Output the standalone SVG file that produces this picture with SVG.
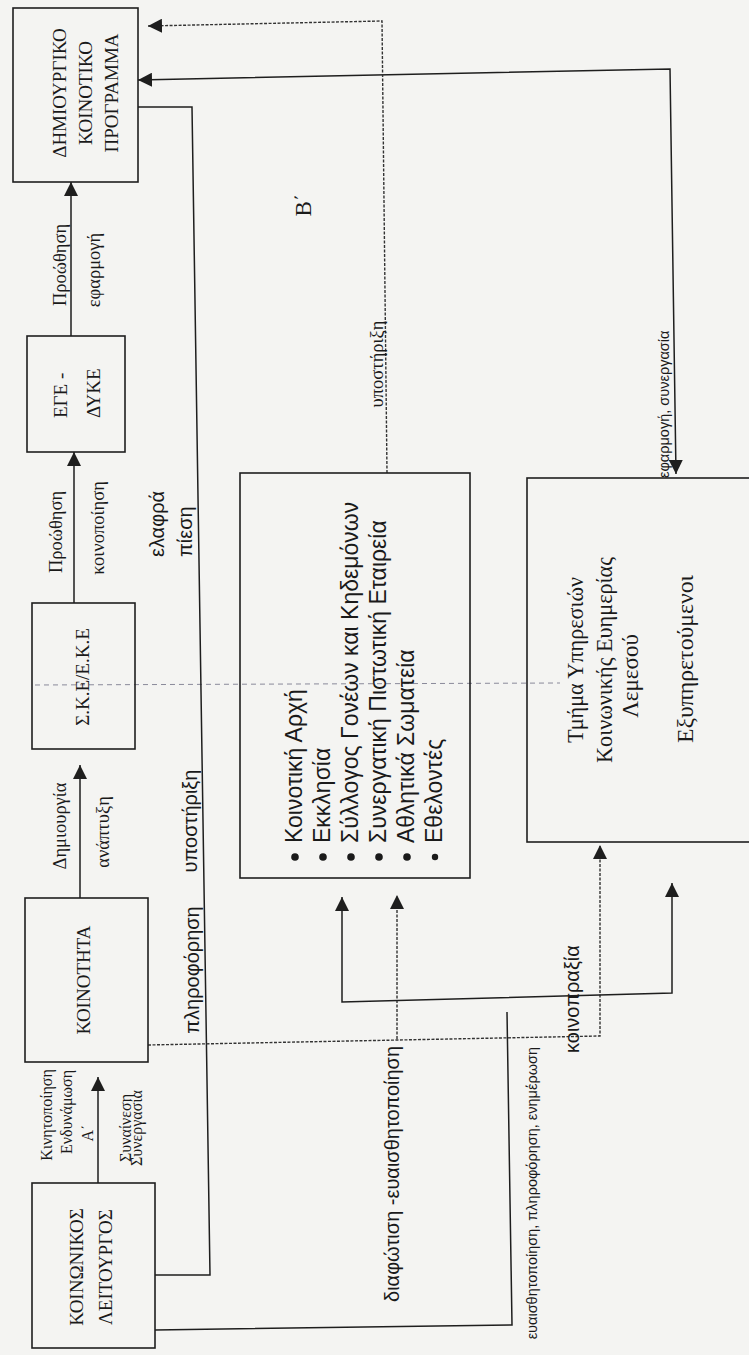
<svg xmlns="http://www.w3.org/2000/svg" width="749" height="1355" viewBox="0 0 749 1355">
<defs>
<style>
.box{fill:none;stroke:#1e1e1e;stroke-width:1.6}
.ln{fill:none;stroke:#1e1e1e;stroke-width:1.5}
.dl{fill:none;stroke:#333;stroke-width:1.4;stroke-dasharray:3 1.5}
.faint{fill:none;stroke:#8a8a9a;stroke-width:1;stroke-dasharray:5 4}
text{fill:#1a1a1a}
.cap{font-family:"Liberation Serif","DejaVu Serif",serif;font-size:19px}
.lbl{font-family:"Liberation Serif","DejaVu Serif",serif;font-size:18.5px}
.sm{font-family:"Liberation Serif","DejaVu Serif",serif;font-size:16px}
.big{font-family:"Liberation Serif","DejaVu Serif",serif;font-size:23px}
.sans{font-family:"Liberation Sans","DejaVu Sans",sans-serif;font-size:20px}
.list{font-family:"Liberation Sans","DejaVu Sans",sans-serif;font-size:23px}
.tiny{font-family:"Liberation Sans","DejaVu Sans",sans-serif;font-size:14.5px}
</style>
<marker id="ah" viewBox="0 0 14 14" refX="14" refY="7" markerWidth="14" markerHeight="14" markerUnits="userSpaceOnUse" orient="auto-start-reverse">
<path d="M0,0 L14,7 L0,14 z" fill="#1e1e1e"/>
</marker>
</defs>
<rect x="0" y="0" width="749" height="1355" fill="#f4f4f2"/>

<g id="connectors">
<line class="faint" x1="35" y1="685" x2="560" y2="683"/>
<line class="ln" x1="71" y1="336" x2="71" y2="182" marker-end="url(#ah)"/>
<line class="ln" x1="74" y1="603" x2="74" y2="452" marker-end="url(#ah)"/>
<line class="ln" x1="80" y1="898" x2="80" y2="765" marker-end="url(#ah)"/>
<line class="ln" x1="98" y1="1183" x2="98" y2="1077" marker-end="url(#ah)"/>
<polyline class="ln" points="138,107 192,107 210,1275 155,1275"/>
<polyline class="ln" points="138,80 670,69 676,474" marker-start="url(#ah)" marker-end="url(#ah)"/>
<polyline class="dl" points="387,473 382,21 148,26" marker-end="url(#ah)"/>
<polyline class="dl" points="148,1045 600,1036 600,845" marker-end="url(#ah)"/>
<line class="dl" x1="397" y1="1039" x2="397" y2="895" marker-end="url(#ah)"/>
<polyline class="ln" points="155,1330 512,1325 507,1012"/>
<polyline class="ln" points="342,897 342,1002 672,993 672,883" marker-start="url(#ah)" marker-end="url(#ah)"/>

<text class="lbl" text-anchor="middle" transform="translate(66,265) rotate(-90)">Προώθηση</text>
<text class="lbl" text-anchor="middle" transform="translate(100,270) rotate(-90)">εφαρμογή</text>
<text class="lbl" text-anchor="middle" transform="translate(62,532) rotate(-90)">Προώθηση</text>
<text class="lbl" text-anchor="middle" transform="translate(104,528) rotate(-90)">κοινοποίηση</text>
<text class="lbl" text-anchor="middle" transform="translate(66,826) rotate(-90)">Δημιουργία</text>
<text class="lbl" text-anchor="middle" transform="translate(109,832) rotate(-90)">ανάπτυξη</text>
<text class="sm" text-anchor="middle" transform="translate(52,1115) rotate(-90)">Κινητοποίηση</text>
<text class="sm" text-anchor="middle" transform="translate(72,1112) rotate(-90)">Ενδυνάμωση</text>
<text class="sm" text-anchor="middle" transform="translate(93,1133) rotate(-90)">Α΄</text>
<text class="sm" text-anchor="middle" transform="translate(131,1128) rotate(-90)">Συναίνεση</text>
<text class="sm" text-anchor="middle" transform="translate(142,1128) rotate(-90)">Συνεργασία</text>
<text class="sans" transform="translate(164,557) rotate(-90)">ελαφρά</text>
<text class="sans" transform="translate(192,557) rotate(-90)">πίεση</text>
<text class="sans" text-anchor="middle" transform="translate(197,821) rotate(-90)">υποστήριξη</text>
<text class="sans" text-anchor="middle" transform="translate(199,970) rotate(-90)">πληροφόρηση</text>
<text class="sans" font-size="19" transform="translate(399,1302) rotate(-90)">διαφώτιση -ευαισθητοποίηση</text>
<text class="sans" font-size="19" transform="translate(579,1053) rotate(-90)">κοινοπραξία</text>
<text class="tiny" font-size="16" text-anchor="end" transform="translate(537,1047) rotate(-90)">ευαισθητοποίηση, πληροφόρηση, ενημέρωση</text>
<text class="tiny" transform="translate(669,478) rotate(-90)">εφαρμογή, συνεργασία</text>
<text class="lbl" font-size="21" text-anchor="middle" transform="translate(383,364) rotate(-90)">υποστήριξη</text>
<text class="big" font-size="22" text-anchor="middle" transform="translate(311,205) rotate(-90)">Β΄</text>
</g>

<g id="node-dkp">
<rect class="box" x="13" y="8" width="125" height="174"/>
<text class="cap" text-anchor="middle" transform="translate(66,93) rotate(-90)">ΔΗΜΙΟΥΡΓΙΚΟ</text>
<text class="cap" text-anchor="middle" transform="translate(92,93) rotate(-90)">ΚΟΙΝΟΤΙΚΟ</text>
<text class="cap" text-anchor="middle" transform="translate(118,93) rotate(-90)">ΠΡΟΓΡΑΜΜΑ</text>
</g>
<g id="node-ege">
<rect class="box" x="27" y="336" width="98" height="116"/>
<text class="cap" transform="translate(67,418) rotate(-90)">ΕΓΕ -</text>
<text class="cap" transform="translate(100,418) rotate(-90)">ΔΥΚΕ</text>
</g>
<g id="node-ske">
<rect class="box" x="32" y="603" width="103" height="146"/>
<text class="cap" text-anchor="middle" transform="translate(89,677) rotate(-90)">Σ.Κ.Ε/Ε.Κ.Ε</text>
</g>
<g id="node-koinotita">
<rect class="box" x="25" y="898" width="123" height="164"/>
<text class="cap" text-anchor="middle" transform="translate(90,980) rotate(-90)">ΚΟΙΝΟΤΗΤΑ</text>
</g>
<g id="node-leitourgos">
<rect class="box" x="32" y="1183" width="123" height="165"/>
<text class="cap" text-anchor="middle" transform="translate(83,1267) rotate(-90)">ΚΟΙΝΩΝΙΚΟΣ</text>
<text class="cap" text-anchor="middle" transform="translate(112,1267) rotate(-90)">ΛΕΙΤΟΥΡΓΟΣ</text>
</g>
<g id="node-foreis">
<rect class="box" x="240" y="473" width="230" height="405"/>
<g fill="#1a1a1a">
<circle cx="295" cy="857" r="3.8"/>
<circle cx="323" cy="857" r="3.8"/>
<circle cx="351" cy="857" r="3.8"/>
<circle cx="379" cy="857" r="3.8"/>
<circle cx="407" cy="857" r="3.8"/>
<circle cx="435" cy="857" r="3.2"/>
</g>
<text class="list" transform="translate(302,843) rotate(-90)">Κοινοτική Αρχή</text>
<text class="list" transform="translate(330,843) rotate(-90)">Εκκλησία</text>
<text class="list" transform="translate(358,843) rotate(-90)">Σύλλογος Γονέων και Κηδεμόνων</text>
<text class="list" transform="translate(386,843) rotate(-90)">Συνεργατική Πιστωτική Εταιρεία</text>
<text class="list" transform="translate(414,843) rotate(-90)">Αθλητικά Σωματεία</text>
<text class="list" transform="translate(442,843) rotate(-90)">Εθελοντές</text>
</g>
<g id="node-tmima">
<rect class="box" x="527" y="478" width="240" height="364"/>
<text class="big" text-anchor="middle" textLength="166" lengthAdjust="spacingAndGlyphs" transform="translate(583,660) rotate(-90)">Τμήμα Υπηρεσιών</text>
<text class="big" text-anchor="middle" textLength="206" lengthAdjust="spacingAndGlyphs" transform="translate(612,660) rotate(-90)">Κοινωνικής Ευημερίας</text>
<text class="big" text-anchor="middle" transform="translate(638,676) rotate(-90)">Λεμεσού</text>
<text class="big" text-anchor="middle" textLength="168" lengthAdjust="spacingAndGlyphs" transform="translate(693,659) rotate(-90)">Εξυπηρετούμενοι</text>
</g>
</svg>
